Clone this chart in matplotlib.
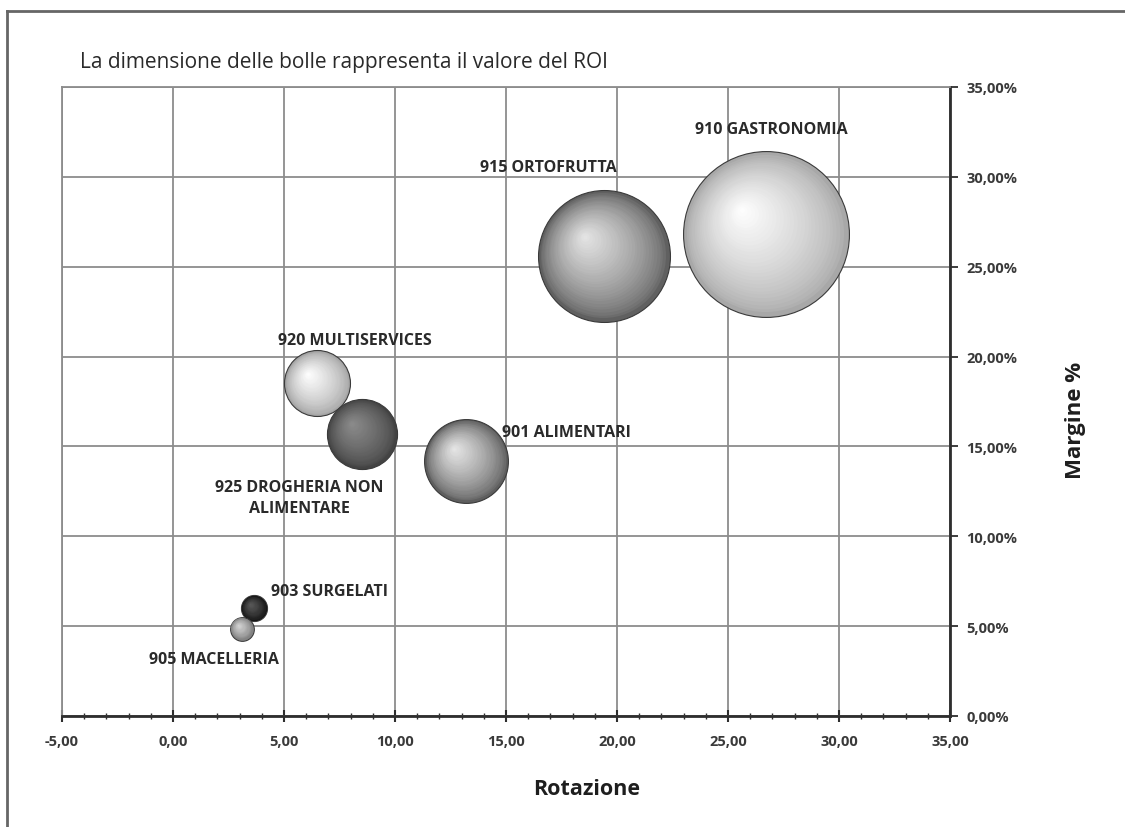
import numpy as np
import matplotlib.pyplot as plt
import matplotlib.transforms as mtransforms
from matplotlib.lines import Line2D
from matplotlib.colors import to_rgb

# dati del grafico a bolle
reparti = ['910 GASTRONOMIA', '915 ORTOFRUTTA', '920 MULTISERVICES',
           '925 DROGHERIA NON\nALIMENTARE', '901 ALIMENTARI',
           '903 SURGELATI', '905 MACELLERIA']
rotazione = [26.7, 19.4, 6.5, 8.5, 13.2, 3.65, 3.1]
margine = [26.8, 25.6, 18.5, 15.7, 14.2, 6.0, 4.85]   # in %
roi = [68.9, 43.6, 10.9, 12.3, 17.6, 1.7, 1.4]

x_ticks = [-5, 0, 5, 10, 15, 20, 25, 30, 35]
y_ticks = [0, 5, 10, 15, 20, 25, 30, 35]

# colori delle sfere (bordo scuro, luce)
col_base = ['#a8a8a8', '#606060', '#a4a4a4', '#434343', '#5e5e5e', '#101010', '#747474']
col_luce = ['#ffffff', '#e6e6e6', '#ffffff', '#8c8c8c', '#e8e8e8', '#5a5a5a', '#d6d6d6']

# posizione etichette (offset in punti, allineamento)
lab_off = [(4, 76), (-40, 64), (27, 31), (-45, -46), (26, 21), (12, 12), (-20, -22)]
lab_ha = ['center', 'center', 'center', 'center', 'left', 'left', 'center']

plt.rcParams['font.family'] = ['Open Sans', 'DejaVu Sans']

fig = plt.figure(figsize=(11.25, 8.28), dpi=100)
ax = fig.add_axes([0.0551, 0.1341, 0.7893, 0.7597])

k = 207  # fattore scala area bolle
n_layers = 30
for i in range(len(reparti)):
    s = roi[i] * k
    r_pt = np.sqrt(s) / 2
    c0 = np.array(to_rgb(col_base[i]))
    c1 = np.array(to_rgb(col_luce[i]))
    # contorno
    ax.scatter(rotazione[i], margine[i], s=s, color=c0, edgecolor='#3a3a3a',
               linewidth=0.8, zorder=3)
    for j in range(1, n_layers):
        t = j / n_layers
        col = c0 + (c1 - c0) * (t ** 0.7)
        tr = mtransforms.offset_copy(ax.transData, fig=fig,
                                     x=-t * r_pt * 0.3, y=t * r_pt * 0.3, units='points')
        ax.scatter(rotazione[i], margine[i], s=s * (1 - t) ** 2 * 0.96, color=col,
                   linewidth=0, transform=tr, zorder=3)
    ax.annotate(reparti[i], (rotazione[i], margine[i]), xytext=lab_off[i],
                textcoords='offset points', ha=lab_ha[i], va='center',
                fontsize=11.5, fontweight='bold', color='#2a2a2a', zorder=5,
                linespacing=1.4)

ax.set_xlim(-5, 35)
ax.set_ylim(0, 35)
ax.set_xticks(x_ticks)
ax.set_xticks(np.arange(-5, 36, 1), minor=True)
ax.set_yticks(y_ticks)
ax.set_xticklabels([f'{v:.2f}'.replace('.', ',') for v in x_ticks])
ax.set_yticklabels([f'{v:.2f}%'.replace('.', ',') for v in y_ticks])
ax.yaxis.tick_right()
ax.yaxis.set_label_position('right')
ax.grid(True, color='#8c8c8c', linewidth=1.3)
ax.set_axisbelow(True)

for sp in ['top', 'left']:
    ax.spines[sp].set_color('#8c8c8c')
    ax.spines[sp].set_linewidth(1.3)
for sp in ['right', 'bottom']:
    ax.spines[sp].set_color('#2e2e2e')
    ax.spines[sp].set_linewidth(2)

ax.tick_params(axis='x', which='major', direction='inout', length=8, width=1.5,
               colors='#2e2e2e', labelsize=10.5, pad=9)
ax.tick_params(axis='x', which='minor', direction='inout', length=4, width=1.0,
               colors='#2e2e2e')
ax.tick_params(axis='y', which='major', direction='out', length=6, width=1.3,
               colors='#2e2e2e', labelsize=10.5, pad=6)
for lb in ax.get_xticklabels() + ax.get_yticklabels():
    lb.set_fontweight('bold')
    lb.set_color('#3a3a3a')

ax.set_xlabel('Rotazione', fontsize=15.5, fontweight='bold', color='#1e1e1e')
ax.set_ylabel('Margine %', fontsize=16, fontweight='bold', color='#1e1e1e')
ax.xaxis.set_label_coords(0.591, -0.098)
ax.yaxis.set_label_coords(1.13, 0.472)

fig.text(0.071, 0.925, 'La dimensione delle bolle rappresenta il valore del ROI',
         fontsize=15, color='#2a2a2a', va='center')

# cornice esterna
fig.add_artist(Line2D([0.0065, 0.0065], [0, 0.9855], transform=fig.transFigure,
                      color='#666666', linewidth=2))
fig.add_artist(Line2D([0.0065, 1.0], [0.9855, 0.9855], transform=fig.transFigure,
                      color='#666666', linewidth=2))

fig.savefig('out.png', dpi=100, facecolor='white')
